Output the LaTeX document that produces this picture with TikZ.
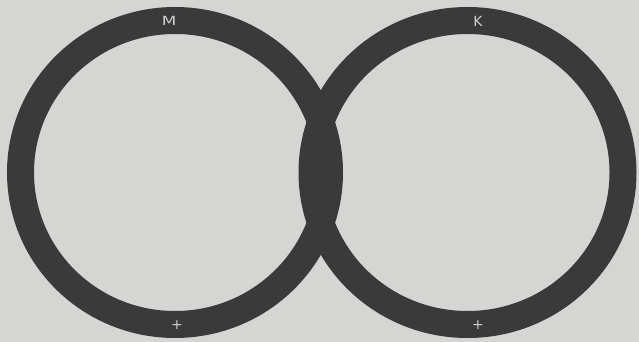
\documentclass[tikz,border=0pt]{standalone}
\usepackage{fontspec}
\setsansfont{DejaVu Sans}
\definecolor{paper}{RGB}{213,213,211}
\definecolor{ink}{RGB}{58,58,58}
\definecolor{chalk}{RGB}{208,208,206}
\begin{document}
\begin{tikzpicture}[x=1pt,y=-1pt,
  ring/.style={draw=ink,line width=27pt},
  lbl/.style={text=chalk,font=\sffamily\fontsize{14}{14}\selectfont,inner sep=0pt}]
\fill[paper] (0,0) rectangle (639,342);
\useasboundingbox (0,0) rectangle (639,342);
\draw[ring] (175,172.5) ellipse [x radius=154.5,y radius=152];
\draw[ring] (467.5,172.5) ellipse [x radius=155.5,y radius=152];
\node[lbl] (m) at (169,21) {\scalebox{1.2}[0.9]{M}};
\node[lbl] (k) at (478,21) {K};
\node[lbl] (p1) at (177,325) {+};
\node[lbl] (p2) at (478,325) {+};
\end{tikzpicture}
\end{document}
